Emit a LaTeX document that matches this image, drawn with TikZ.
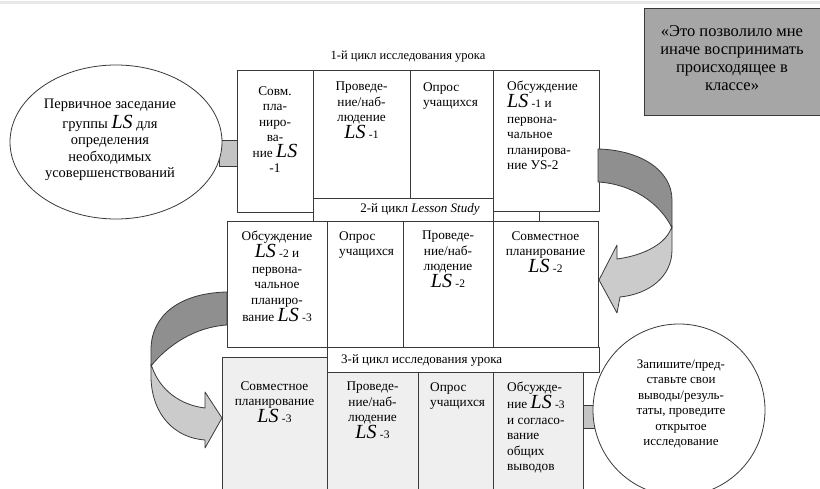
\documentclass[tikz,border=0pt]{standalone}
\usepackage{fontspec}
\setmainfont{Liberation Serif}
\usetikzlibrary{calc,shapes.geometric}
\definecolor{linec}{HTML}{3A3A3A}
\definecolor{quotefill}{HTML}{A6A6A6}
\definecolor{rowthree}{HTML}{EFEFEF}
\definecolor{ribdark}{HTML}{8F8F8F}
\definecolor{riblight}{HTML}{CBCBCB}
\definecolor{connfill}{HTML}{C4C4C4}
\newcommand{\LSb}{{\fontsize{20}{18}\selectfont\itshape LS}}
\newcommand{\smn}[1]{{\fontsize{11.5}{11}\selectfont #1}}
\begin{document}
\begin{tikzpicture}[x=1pt,y=-1pt,
  cell/.style={draw=linec, line width=0.8pt, fill=white, rectangle, inner sep=0pt, outer sep=0pt, anchor=north west},
  greycell/.style={cell, fill=rowthree},
  txt/.style={font=\fontsize{13.3}{15.5}\selectfont, align=center, inner sep=0pt, anchor=north},
  ltxt/.style={txt, align=left},
  rib/.style={draw=linec, line width=0.8pt, line join=round},
  conn/.style={draw=linec, line width=0.8pt, fill=connfill}]
\useasboundingbox (0,0) rectangle (820,489);
\clip (0,0) rectangle (820,489);
% faint top rule
\fill[black!9] (0,1) rectangle (820,4);
% quote box
\node[cell, fill=quotefill, minimum width=180pt, minimum height=107pt] (q) at (644,8) {};
\node[font=\fontsize{16.5}{18}\selectfont, align=center, inner sep=0pt] (qt) at (732,58)
  {«Это позволило мне\\иначе воспринимать\\происходящее в\\классе»};
% title
\node[font=\fontsize{12.5}{14}\selectfont, inner sep=0pt] (title) at (408,57) {1-й цикл исследования урока};
% row 1
\node[cell, minimum width=76pt, minimum height=142pt] (c11) at (237,70) {};
\node[cell, minimum width=97pt, minimum height=128pt] (c12) at (313,70) {};
\node[cell, minimum width=83pt, minimum height=128pt] (c13) at (410,70) {};
\node[cell, minimum width=180pt, minimum height=23pt] (s2) at (313,198) {};
\node[cell, minimum width=106pt, minimum height=141pt] (c14) at (493,70) {};
% row 2
\node[cell, minimum width=100pt, minimum height=126pt] (c21) at (227,221) {};
\node[cell, minimum width=76pt, minimum height=126pt] (c22) at (327,221) {};
\node[cell, minimum width=90pt, minimum height=126pt] (c23) at (403,221) {};
\node[cell, minimum width=105pt, minimum height=126pt] (c24) at (493,221) {};
\draw[draw=linec, line width=0.8pt] ($(c14.south west)+(46,0)$) -- ($(c24.north west)+(46,0)$);
% row 3
\node[cell, minimum width=272pt, minimum height=25pt] (s3) at (327,347) {};
\node[greycell, minimum width=105pt, minimum height=150pt] (c31) at (222,357) {};
\node[greycell, minimum width=91pt, minimum height=130pt] (c32) at (327,372) {};
\node[greycell, minimum width=75pt, minimum height=130pt] (c33) at (418,372) {};
\node[greycell, minimum width=90pt, minimum height=130pt] (c34) at (493,372) {};
% right curved arrow (c14 -> c24)
\draw[rib, fill=ribdark] (598,149) .. controls (640,150) and (672,170) .. (672,200) -- (672,228)
   .. controls (660,203) and (632,184) .. (598,182) -- cycle;
\draw[rib, fill=riblight] (672,226) -- (672,250) .. controls (672,276) and (650,294) .. (620,297)
   -- (617,313) -- (599,280) -- (617,245) -- (617,259) .. controls (640,256) and (664,246) .. (671,229) -- cycle;
% left curved arrow (c21 -> c31)
\draw[rib, fill=ribdark] (227,292) .. controls (180,293) and (151,315) .. (151,350) -- (151,366)
   .. controls (168,345) and (195,327) .. (227,325) -- cycle;
\draw[rib, fill=riblight] (151,364) -- (151,378) .. controls (152,415) and (175,438) .. (205,440)
   -- (205,448) -- (222,418) -- (205,392) -- (205,408) .. controls (180,405) and (160,390) .. (152,367) -- cycle;
% ellipse and connector
\node[conn, rectangle, minimum width=18pt, minimum height=26pt, inner sep=0pt, anchor=north west] (e1c) at (219,140) {};
\node[ellipse, draw=linec, line width=0.8pt, fill=white, minimum width=212pt, minimum height=154pt, inner sep=0pt] (e1) at (116,142) {};
\node[txt, anchor=center, font=\fontsize{14.5}{16.5}\selectfont] (e1t) at (110,140) {Первичное заседание\\[3pt]группы \LSb{} для\\определения\\необходимых\\усовершенствований};
% circle and connector
\node[conn, rectangle, minimum width=15pt, minimum height=23pt, inner sep=0pt, anchor=north west] (e2c) at (583,405) {};
\node[circle, draw=linec, line width=0.8pt, fill=white, minimum size=172pt, inner sep=0pt] (e2) at (679,410) {};
\node[txt, anchor=center, font=\fontsize{13}{15.5}\selectfont] (e2t) at (681,404) {Запишите/пред-\\ставьте свои\\выводы/резуль-\\таты, проведите\\открытое\\исследование};
% texts row 1
\node[txt] (t11) at ($(c11.north)+(0,16)$) {Совм.\\пла-\\ниро-\\ва-\\ние \LSb\\-1};
\node[txt] (t12) at ($(c12.north)+(0,12)$) {Проведе-\\ние/наб-\\людение\\\LSb\ \smn{-1}};
\node[ltxt] (t13) at ($(c13.north)+(-1,12)$) {Опрос\\учащихся};
\node[ltxt, anchor=north west] (t14) at ($(c14.north west)+(14,11)$) {Обсуждение\\\LSb\ \smn{-1} и\\первона-\\чальное\\планирова-\\ние УS-2};
\node[inner sep=0pt, font=\fontsize{13}{15}\selectfont] (s2t) at (420,209) {2-й цикл \textit{Lesson Study}};
% texts row 2
\node[txt] (t21) at ($(c21.north)+(0,10)$) {Обсуждение\\\LSb\ \smn{-2} и\\первона-\\чальное\\планиро-\\вание \LSb\ \smn{-3}};
\node[ltxt, anchor=north west] (t22) at ($(c22.north west)+(12,10)$) {Опрос\\учащихся};
\node[txt] (t23) at ($(c23.north)+(0,10)$) {Проведе-\\ние/наб-\\людение\\\LSb\ \smn{-2}};
\node[txt] (t24) at ($(c24.north)+(0,10)$) {Совместное\\планирование\\\LSb\ \smn{-2}};
\node[inner sep=0pt, anchor=west, font=\fontsize{13}{15}\selectfont] (s3t) at (341,360) {3-й цикл исследования урока};
% texts row 3
\node[txt] (t31) at ($(c31.north)+(0,24)$) {Совместное\\планирование\\\LSb\ \smn{-3}};
\node[txt] (t32) at ($(c32.north)+(0,10)$) {Проведе-\\ние/наб-\\людение\\\LSb\ \smn{-3}};
\node[ltxt, anchor=north west] (t33) at ($(c33.north west)+(12,10)$) {Опрос\\учащихся};
\node[ltxt, anchor=north west] (t34) at ($(c34.north west)+(14,10)$) {Обсужде-\\ние \LSb\ \smn{-3}\\и согласо-\\вание\\общих\\выводов};
\end{tikzpicture}
\end{document}
